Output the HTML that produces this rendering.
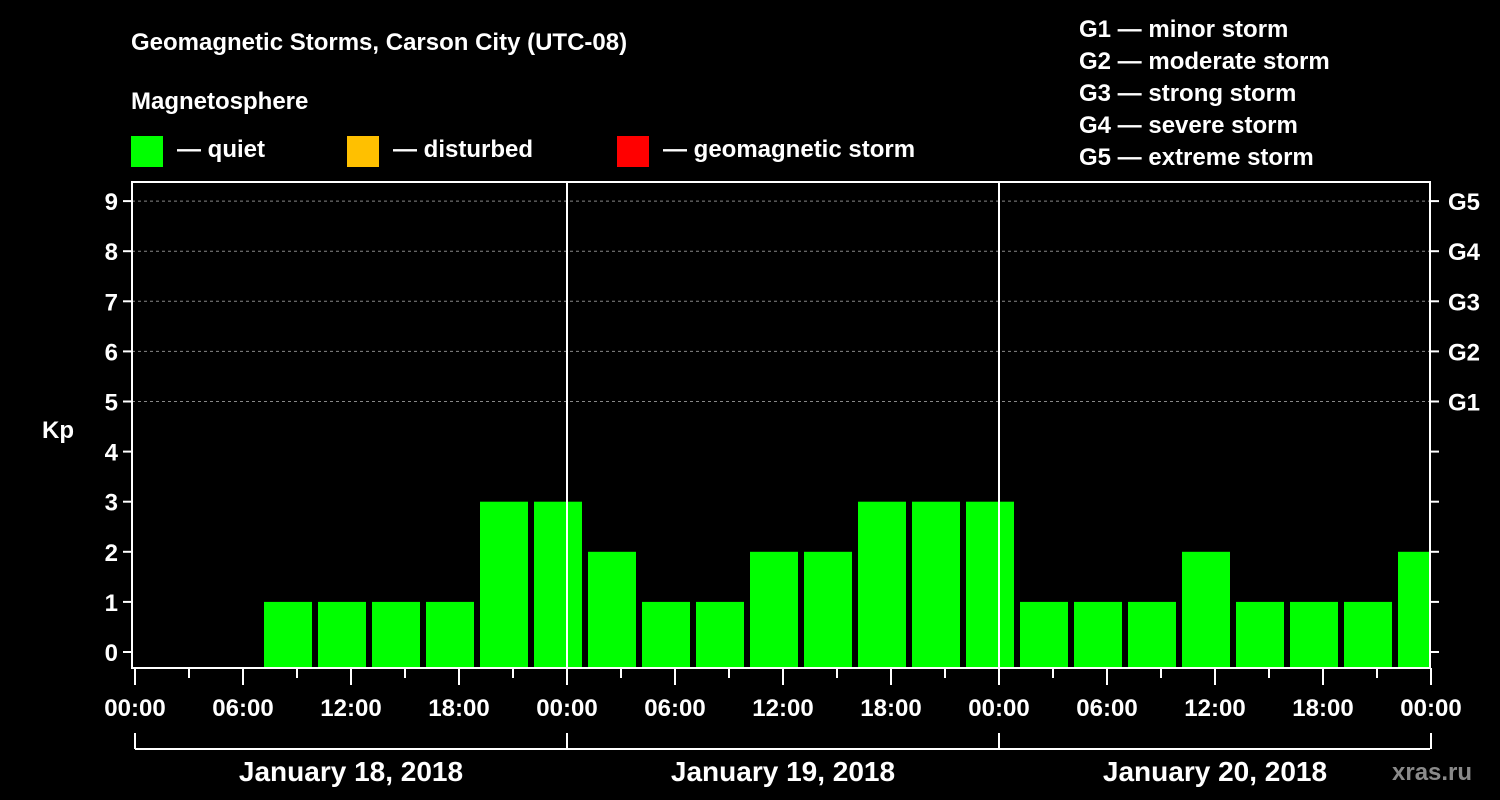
<!DOCTYPE html>
<html><head><meta charset="utf-8"><style>
html,body{margin:0;padding:0;background:#000;width:1500px;height:800px;overflow:hidden}
svg text{font-family:"Liberation Sans",sans-serif;font-weight:bold;fill:#fff}
</style></head><body>
<svg id="c" width="1500" height="800" xmlns="http://www.w3.org/2000/svg">
<text x="131" y="50" font-size="24">Geomagnetic Storms, Carson City (UTC-08)</text>
<text x="131" y="109" font-size="24">Magnetosphere</text>
<rect x="131" y="136" width="32" height="31" fill="#00ff00"/>
<text x="177" y="157" font-size="24">— quiet</text>
<rect x="347" y="136" width="32" height="31" fill="#ffc000"/>
<text x="393" y="157" font-size="24">— disturbed</text>
<rect x="617" y="136" width="32" height="31" fill="#ff0000"/>
<text x="663" y="157" font-size="24">— geomagnetic storm</text>
<g font-size="24">
<text x="1079" y="37">G1 — minor storm</text>
<text x="1079" y="69">G2 — moderate storm</text>
<text x="1079" y="101">G3 — strong storm</text>
<text x="1079" y="133">G4 — severe storm</text>
<text x="1079" y="165">G5 — extreme storm</text>
</g>
<text x="42" y="438" font-size="24">Kp</text>
<g id="plot"></g>
<text x="1392" y="780" font-size="24" fill="#888" style="fill:#8a8a8a">xras.ru</text>
</svg>
<script>
const barHours = [8.5,11.5,14.5,17.5,20.5,23.5, 26.5,29.5,32.5,35.5,38.5,41.5,44.5,47.5, 50.5,53.5,56.5,59.5,62.5,65.5,68.5,71.5];
const kpValues = [1,1,1,1,3,3, 2,1,1,2,2,3,3,3, 1,1,1,2,1,1,1,2];
const yTicks = [0,1,2,3,4,5,6,7,8,9];
const gLabels = ["G1","G2","G3","G4","G5"];
const xTickLabels = ["00:00","06:00","12:00","18:00","00:00","06:00","12:00","18:00","00:00","06:00","12:00","18:00","00:00"];
const dayLabels = ["January 18, 2018","January 19, 2018","January 20, 2018"];

const L=132,R=1430,T=182,B=668,X0=135,PXH=18;
const xs=h=>X0+h*PXH;
const ys=v=>652-v*50.1;
const NS="http://www.w3.org/2000/svg";
const g=document.getElementById('plot');
function mk(tag,attrs){const e=document.createElementNS(NS,tag);for(const k in attrs)e.setAttribute(k,attrs[k]);g.appendChild(e);return e;}
// gridlines
yTicks.forEach(v=>{if(v>=5){const e=mk('line',{x1:L,x2:R,y1:ys(v),y2:ys(v),stroke:'#888','stroke-dasharray':'3,3','stroke-width':1});

}});
// bars
barHours.forEach((h,i)=>{const x1=Math.max(L,xs(h)-24),x2=Math.min(R,xs(h)+24);const y=ys(kpValues[i]);
const r=mk('rect',{x:x1,y:y,width:x2-x1,height:B-y,fill:'#00ff00'});

});
// day separators
[24,48].forEach(h=>{const e=mk('line',{x1:xs(h),x2:xs(h),y1:T,y2:B,stroke:'#fff','stroke-width':2});

});
// frame
const f=mk('rect',{x:L,y:T,width:R-L,height:B-T,fill:'none',stroke:'#fff','stroke-width':2});


// y ticks
yTicks.forEach(v=>{const y=ys(v);
mk('line',{x1:L-9,x2:L,y1:y,y2:y,stroke:'#fff','stroke-width':2});
mk('line',{x1:R,x2:R+9,y1:y,y2:y,stroke:'#fff','stroke-width':2});
const t=mk('text',{x:L-14,y:y+9,'font-size':24,'text-anchor':'end'});t.textContent=v;


if(v>=5){const t2=mk('text',{x:R+18,y:y+9,'font-size':24});t2.textContent=gLabels[v-5];

}});
// x ticks
for(let h=0;h<=72;h+=3){const major=h%6===0;mk('line',{x1:xs(h),x2:xs(h),y1:B,y2:B+(major?17:10),stroke:'#fff','stroke-width':2});}
xTickLabels.forEach((s,i)=>{const t=mk('text',{x:xs(i*6),y:716,'font-size':24,'text-anchor':'middle'});t.textContent=s;

});
// date bracket
mk('line',{x1:X0,x2:R,y1:749,y2:749,stroke:'#fff','stroke-width':2});
[0,24,48,72].forEach(h=>mk('line',{x1:xs(h),x2:xs(h),y1:733,y2:749,stroke:'#fff','stroke-width':2}));
dayLabels.forEach((s,i)=>{const t=mk('text',{x:xs(i*24+12),y:781,'font-size':28,'text-anchor':'middle'});t.textContent=s;

});
</script>
</body></html>
